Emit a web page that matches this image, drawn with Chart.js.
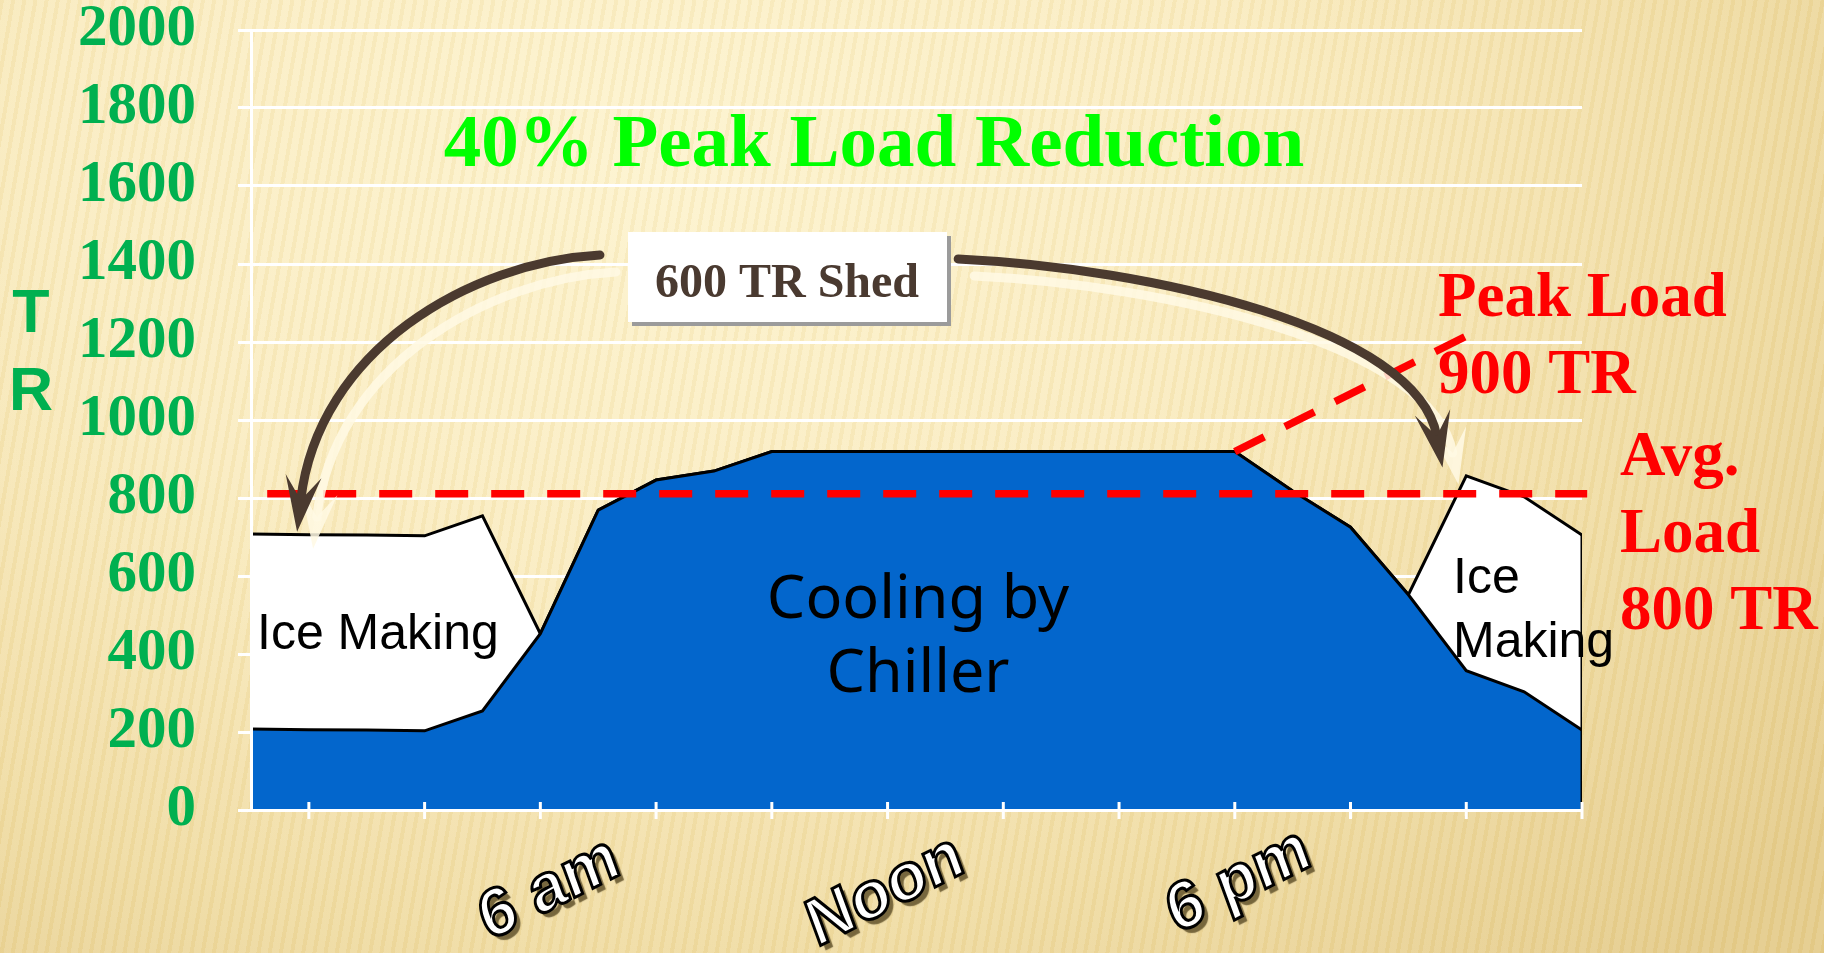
<!DOCTYPE html>
<html>
<head>
<meta charset="utf-8">
<title>40% Peak Load Reduction</title>
<script src="https://cdn.jsdelivr.net/npm/chart.js@4.4.1/dist/chart.umd.min.js"></script>
<style>
    html, body { margin: 0; padding: 0; overflow: hidden; }
    body {
        width: 1824px;
        height: 953px;
        background:
            repeating-linear-gradient(100deg, rgba(214,180,90,0.10) 0px, rgba(214,180,90,0.10) 4px, rgba(255,255,255,0.08) 4px, rgba(255,255,255,0.08) 11px),
            radial-gradient(ellipse 1500px 1100px at 650px 150px, #fdf3ce 0%, #faecc0 40%, #f0dca3 72%, #e4cb8a 100%);
    }
    #wrap { position: relative; width: 1824px; height: 953px; }
</style>
</head>
<body>
<div id="wrap"><canvas id="graficaCarga"></canvas></div>
<script>
// Horas del día (1 = 1 am ... 24 = medianoche)
var hours = [1, 2, 3, 4, 5, 6, 7, 8, 9, 10, 11, 12, 13, 14, 15, 16, 17, 18, 19, 20, 21, 22, 23, 24];

// Carga enfriada por el chiller (TR)
var chillerLoad = [208, 206, 205, 203, 254, 452, 769, 846, 869, 919, 919, 919, 919, 919, 919, 919, 919, 919, 818, 725, 552, 357, 303, 205];

// Fabricación de hielo, apilada sobre el chiller (TR)
var iceMaking = [500, 500, 500, 500, 500, 0, 0, 0, 0, 0, 0, 0, 0, 0, 0, 0, 0, 0, 0, 0, 0, 500, 500, 500];

// Línea de carga promedio y línea hacia la carga pico
var avgLineHours = [1.28, 24.09];
var avgLineValues = [811, 811];
var peakLineHours = [18, 22];
var peakLineValues = [919, 1215];

// Ejes
var xTickHours = [2, 4, 6, 8, 10, 12, 14, 16, 18, 20, 22, 24];
var xLabelHours = [6, 12, 18];
var xLabelText = ['6 am', 'Noon', '6 pm'];
var yMin = 0, yMax = 2000, yStep = 200;

function toPoints(xs, ys) {
    return xs.map(function(x, i) { return { x: x, y: ys[i] }; });
}

// Flechas curvas (en unidades de hora / TR)
var arrows = [
    { p0: [7.03, 1423], c1: [4.78, 1405], c2: [2.16, 1179], n: [1.86, 795] },
    { p0: [13.22, 1413], c1: [16.53, 1390], c2: [21.15, 1236], n: [21.49, 959] }
];

function drawArrow(c, a, xs, ys, dx, dy) {
    function px(p) { return { x: xs.getPixelForValue(p[0]) + dx, y: ys.getPixelForValue(p[1]) + dy }; }
    var p0 = px(a.p0), c1 = px(a.c1), c2 = px(a.c2), n = px(a.n);
    var vx = n.x - c2.x, vy = n.y - c2.y, len = Math.hypot(vx, vy);
    var ux = vx / len, uy = vy / len;
    var tip = { x: n.x + ux * 32, y: n.y + uy * 32 };
    var base = { x: tip.x - ux * 56, y: tip.y - uy * 56 };
    var nx = -uy, ny = ux;
    c.beginPath();
    c.moveTo(p0.x, p0.y);
    c.bezierCurveTo(c1.x, c1.y, c2.x, c2.y, n.x, n.y);
    c.stroke();
    c.beginPath();
    c.moveTo(tip.x, tip.y);
    c.lineTo(base.x + nx * 18, base.y + ny * 18);
    c.lineTo(n.x, n.y);
    c.lineTo(base.x - nx * 18, base.y - ny * 18);
    c.closePath();
    c.fill();
}

var annotate = {
    id: 'annotate',
    afterDatasetsDraw: function(chart) {
        var c = chart.ctx, xs = chart.scales.x, ys = chart.scales.y;
        c.save();
        // marcas del eje x (cruzan la línea del eje)
        c.strokeStyle = '#ffffff';
        c.lineWidth = 3;
        xs.ticks.forEach(function(t) {
            var x = xs.getPixelForValue(t.value);
            c.beginPath();
            c.moveTo(x, xs.top - 8);
            c.lineTo(x, xs.top + 9);
            c.stroke();
        });

        // flechas: sombra crema y luego marrón
        c.lineWidth = 9;
        c.lineCap = 'round';
        c.strokeStyle = 'rgba(255,249,228,0.85)';
        c.fillStyle = 'rgba(255,249,228,0.85)';
        arrows.forEach(function(a) { drawArrow(c, a, xs, ys, 16, 17); });
        c.strokeStyle = '#4b3a2f';
        c.fillStyle = '#4b3a2f';
        arrows.forEach(function(a) { drawArrow(c, a, xs, ys, 0, 0); });

        // cuadro "600 TR Shed"
        c.fillStyle = '#9b9b9b';
        c.fillRect(632, 236, 319, 90);
        c.fillStyle = '#ffffff';
        c.fillRect(628, 232, 319, 90);
        c.restore();
    },
    afterDraw: function(chart) {
        var c = chart.ctx, xs = chart.scales.x;
        c.save();
        c.textBaseline = 'alphabetic';

        c.fillStyle = '#00ff00';
        c.textAlign = 'center';
        c.font = 'bold 75px "Liberation Serif", "Times New Roman", serif';
        c.fillText('40% Peak Load Reduction', 874, 166);

        c.fillStyle = '#4a3a30';
        c.font = 'bold 48px "Liberation Serif", "Times New Roman", serif';
        c.fillText('600 TR Shed', 787, 297);

        c.fillStyle = '#00b050';
        c.font = 'bold 61px "Liberation Sans", Arial, sans-serif';
        c.fillText('T', 31, 332);
        c.fillText('R', 31, 410);

        c.fillStyle = '#000000';
        c.font = '61px "Noto Sans", sans-serif';
        c.fillText('Cooling by', 918, 618);
        c.fillText('Chiller', 918, 692);

        c.textAlign = 'left';
        c.font = '50px "Liberation Sans", Arial, sans-serif';
        c.fillText('Ice Making', 257, 649);
        c.fillText('Ice', 1453, 593);
        c.fillText('Making', 1453, 657);

        c.fillStyle = '#ff0000';
        c.font = 'bold 63px "Liberation Serif", "Times New Roman", serif';
        c.fillText('Peak Load', 1438, 316);
        c.fillText('900 TR', 1438, 393);
        c.fillText('Avg.', 1620, 475);
        c.fillText('Load', 1620, 552);
        c.fillText('800 TR', 1620, 629);

        // etiquetas de hora, giradas con contorno y sombra
        c.font = 'bold 66px "Liberation Sans", Arial, sans-serif';
        c.textAlign = 'center';
        c.textBaseline = 'middle';
        var shift = [9, -2, 4];
        var lift = [0, 2, -8];
        xLabelHours.forEach(function(h, i) {
            var x = xs.getPixelForValue(h) + shift[i];
            c.save();
            c.translate(x, xs.top + 80 + lift[i]);
            c.rotate(-27 * Math.PI / 180);
            c.transform(1, 0, -0.12, 1, 0, 0);
            c.shadowColor = 'rgba(105,90,50,0.9)';
            c.shadowOffsetX = 5;
            c.shadowOffsetY = 5;
            c.shadowBlur = 1;
            c.fillStyle = '#ffffff';
            c.fillText(xLabelText[i], 0, 0);
            c.shadowColor = 'transparent';
            c.lineWidth = 3;
            c.strokeStyle = '#000000';
            c.strokeText(xLabelText[i], 0, 0);
            c.restore();
        });
        c.restore();
    }
};

var ctx = document.getElementById('graficaCarga').getContext('2d');

window.loadChart = new Chart(ctx, {
    type: 'line',
    data: {
        datasets: [
            {
                label: 'Avg. Load',
                data: toPoints(avgLineHours, avgLineValues),
                borderColor: '#ff0000',
                borderWidth: 7.5,
                borderDash: [33, 23],
                borderCapStyle: 'butt',
                fill: false,
                stack: 'avg',
                clip: false,
                order: 0
            },
            {
                label: 'Peak Load',
                data: toPoints(peakLineHours, peakLineValues),
                borderColor: '#ff0000',
                borderWidth: 7.5,
                borderDash: [33, 23],
                borderCapStyle: 'butt',
                fill: false,
                stack: 'peak',
                clip: false,
                order: 0
            },
            {
                label: 'Cooling by Chiller',
                data: toPoints(hours, chillerLoad),
                backgroundColor: '#0366cc',
                borderColor: '#000000',
                borderWidth: 3,
                fill: 'origin',
                stack: 'load',
                order: 2
            },
            {
                label: 'Ice Making',
                data: toPoints(hours, iceMaking),
                backgroundColor: '#ffffff',
                borderColor: '#000000',
                borderWidth: 3,
                fill: '-1',
                stack: 'load',
                order: 3
            },
            {
                label: 'edge',
                data: toPoints([24, 24], [0, chillerLoad[23] + iceMaking[23]]),
                borderColor: '#000000',
                borderWidth: 3,
                fill: false,
                stack: 'edge',
                order: 1
            }
        ]
    },
    options: {
        responsive: true,
        maintainAspectRatio: false,
        animation: false,
        events: [],
        layout: { padding: { top: 30, right: 242, bottom: 0, left: 0 } },
        elements: {
            point: { radius: 0, hoverRadius: 0 },
            line: { tension: 0, borderJoinStyle: 'miter' }
        },
        plugins: {
            legend: { display: false },
            tooltip: { enabled: false },
            title: { display: false }
        },
        scales: {
            x: {
                type: 'linear',
                min: 1,
                max: 24,
                afterBuildTicks: function(axis) {
                    axis.ticks = xTickHours.map(function(v) { return { value: v }; });
                },
                afterFit: function(axis) {
                    axis.height = 143;
                    axis.paddingLeft = 0;
                    axis.paddingRight = 0;
                },
                ticks: { display: false },
                grid: { display: false },
                border: { display: true, color: '#ffffff', width: 3, z: 1 }
            },
            y: {
                stacked: true,
                min: yMin,
                max: yMax,
                afterFit: function(axis) {
                    axis.width = 251;
                    axis.paddingTop = 0;
                    axis.paddingBottom = 0;
                },
                ticks: {
                    stepSize: yStep,
                    padding: 42,
                    color: '#00b050',
                    font: { family: '"Liberation Serif", "Times New Roman", serif', weight: 'bold', size: 59 },
                    callback: function(v) { return String(v); }
                },
                grid: { color: '#ffffff', lineWidth: 3, tickLength: 13 },
                border: { color: '#ffffff', width: 3, z: 1 }
            }
        }
    },
    plugins: [annotate]
});
</script>
</body>
</html>
